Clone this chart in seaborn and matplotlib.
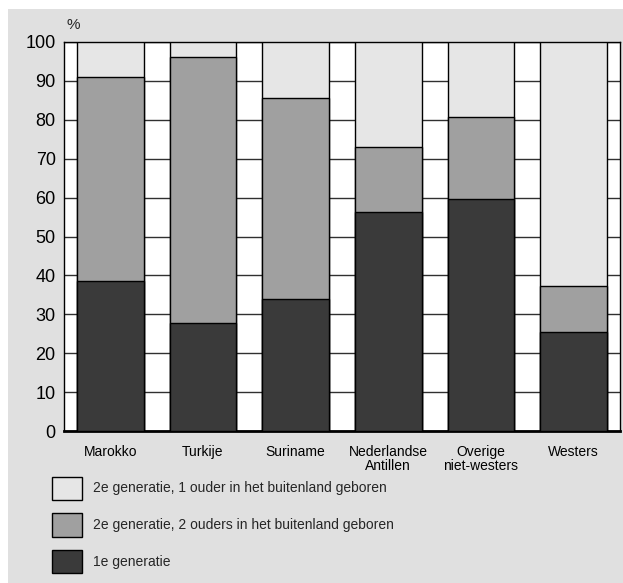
import pandas as pd
import seaborn as sns
import matplotlib.pyplot as plt
from matplotlib.patches import Rectangle, Patch

# data (percentages)
herkomst = ['Marokko', 'Turkije', 'Suriname', 'Nederlandse\nAntillen',
            'Overige\nniet-westers', 'Westers']
eerste_gen = [38.6, 27.7, 34.0, 56.2, 59.6, 25.4]
tweede_gen_2_ouders = [52.3, 68.5, 51.5, 16.8, 21.0, 12.0]
tweede_gen_1_ouder = [9.1, 3.8, 14.5, 27.0, 19.4, 62.6]

labels = ['2e generatie, 1 ouder in het buitenland geboren',
          '2e generatie, 2 ouders in het buitenland geboren',
          '1e generatie']
kleuren = ['#e6e6e6', '#a0a0a0', '#3a3a3a']

df = pd.DataFrame({'herkomst': herkomst,
                   'eerste': eerste_gen,
                   'twee_ouders': tweede_gen_2_ouders,
                   'een_ouder': tweede_gen_1_ouder})
# cumulative heights for stacking (draw tallest first)
df['tot_twee'] = df['eerste'] + df['twee_ouders']
df['totaal'] = df['tot_twee'] + df['een_ouder']

sns.set_style('white')
plt.rcParams['font.family'] = ['Liberation Sans', 'DejaVu Sans']

fig = plt.figure(figsize=(6.23, 5.83), dpi=100)
fig.patch.set_facecolor('white')
# gray panel behind everything
fig.patches.append(Rectangle((8 / 623, 0), 1, 1 - 9 / 583, transform=fig.transFigure,
                             facecolor='#e0e0e0', edgecolor='none', zorder=-10))

ax = fig.add_axes([64 / 623, 1 - 431 / 583, 556 / 623, 389 / 583])
ax.set_facecolor('white')

for col, kleur in zip(['totaal', 'tot_twee', 'eerste'], kleuren):
    sns.barplot(data=df, x='herkomst', y=col, color=kleur, width=0.72,
                edgecolor='black', linewidth=1, saturation=1, ax=ax, zorder=3)

ax.set_ylim(0, 100)
ax.set_xlim(-0.5, 5.5)
ax.set_yticks(range(0, 101, 10))
ax.set_xlabel('')
ax.set_ylabel('')
ax.yaxis.grid(True, color='#303030', linewidth=1, zorder=0)
ax.set_axisbelow(True)
ax.tick_params(axis='y', length=0, pad=6, labelsize=13, colors='black')
ax.tick_params(axis='x', length=0, pad=10, labelsize=10, colors='black')
for t in ax.get_xticklabels():
    t.set_linespacing(1.0)
for s in ax.spines.values():
    s.set_color('black')
    s.set_linewidth(1)
ax.spines['bottom'].set_linewidth(2)

ax.text(0.005, 1.025, '%', transform=ax.transAxes, fontsize=11, ha='left', va='bottom')

handles = [Patch(facecolor=k, edgecolor='black', linewidth=1) for k in kleuren]
fig.legend(handles, labels, loc='upper left', bbox_to_anchor=(40 / 623, 1 - 464 / 583),
           frameon=False, fontsize=10, handlelength=2.15, handleheight=2.2,
           handletextpad=0.75, labelspacing=0.97)

fig.savefig('out.png', dpi=100)
